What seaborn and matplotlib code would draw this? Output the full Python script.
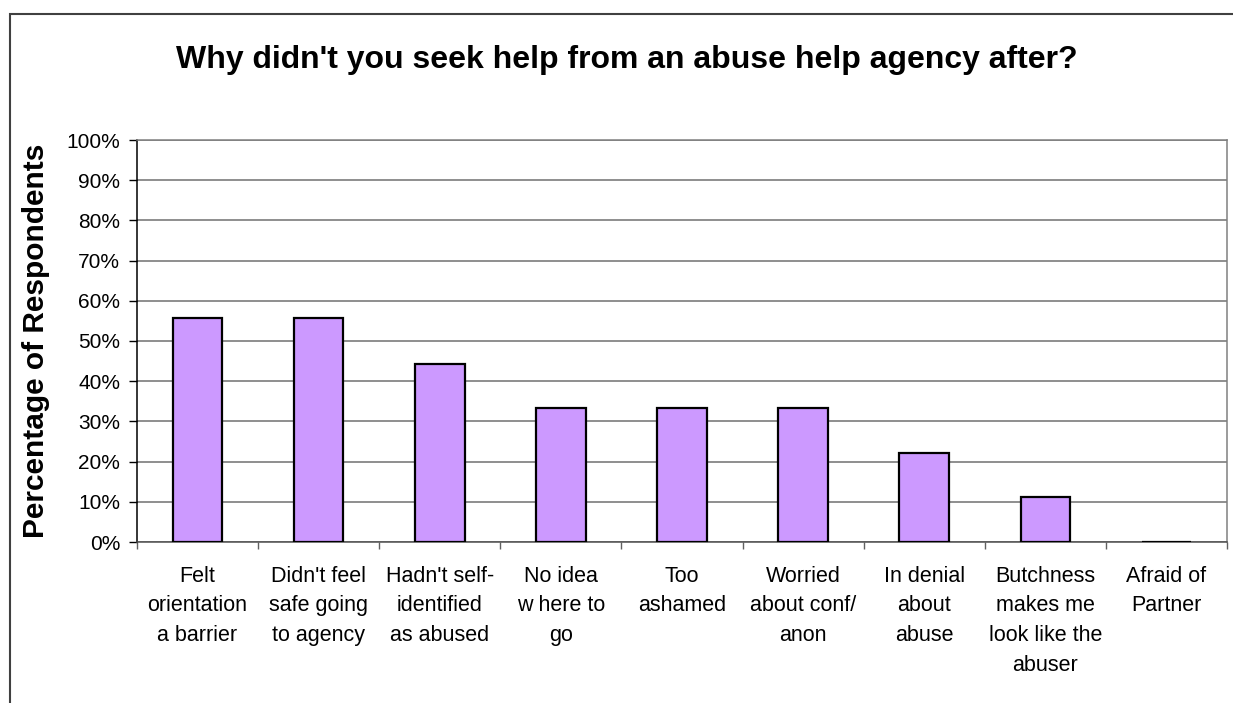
import matplotlib
matplotlib.use("Agg")
import matplotlib.pyplot as plt
import matplotlib.patches as mpatches
from matplotlib.ticker import FixedLocator, PercentFormatter
import seaborn as sns
import pandas as pd
import numpy as np

categories = [
    "Felt\norientation\na barrier",
    "Didn't feel\nsafe going\nto agency",
    "Hadn't self-\nidentified\nas abused",
    "No idea\nw here to\ngo",
    "Too\nashamed",
    "Worried\nabout conf/\nanon",
    "In denial\nabout\nabuse",
    "Butchness\nmakes me\nlook like the\nabuser",
    "Afraid of\nPartner",
]
values = [55.6, 55.6, 44.4, 33.3, 33.3, 33.3, 22.2, 11.1, 0.0]
yticks = [0, 10, 20, 30, 40, 50, 60, 70, 80, 90, 100]

title = "Why didn't you seek help from an abuse help agency after?"
ylabel = "Percentage of Respondents"

sns.set_theme(style="white")
plt.rcParams['font.family'] = ['Liberation Sans', 'DejaVu Sans']
plt.rcParams['text.color'] = 'black'
plt.rcParams['axes.labelcolor'] = 'black'
plt.rcParams['xtick.color'] = 'black'
plt.rcParams['ytick.color'] = 'black'

df = pd.DataFrame({"cat": categories, "val": values})

W, H = 1233, 703
fig = plt.figure(figsize=(W / 100, H / 100), dpi=100)
ax = fig.add_axes([137 / W, 1 - 542 / H, (1227 - 137) / W, (542 - 140) / H])

sns.barplot(data=df, x="cat", y="val", color="#CC99FF", edgecolor="black",
            linewidth=1.6, width=0.41, saturation=1, ax=ax, zorder=3)

ax.set_xlim(-0.5, len(categories) - 0.5)
ax.set_ylim(0, 100)
ax.set_yticks(yticks)
ax.yaxis.set_major_formatter(PercentFormatter(decimals=0))
ax.yaxis.grid(True, color="#707070", linewidth=1.1, zorder=0)
ax.xaxis.grid(False)
ax.set_axisbelow(True)

ax.set_xticks(range(len(categories)))
ax.set_xticklabels(categories, linespacing=1.55, va="top")
ax.xaxis.set_minor_locator(FixedLocator(np.arange(-0.5, len(categories), 1.0)))
ax.tick_params(axis="x", which="major", length=0, pad=17, labelsize=15.5, labelcolor="black")
ax.tick_params(axis="x", which="minor", bottom=True, length=5, width=1, color="#606060")
ax.tick_params(axis="y", which="major", left=True, length=6, width=1, color="black",
               labelsize=15, pad=6, labelcolor="black")

for name, sp in ax.spines.items():
    sp.set_visible(True)
    sp.set_color("#808080")
    sp.set_linewidth(1.1)
ax.spines["left"].set_color("black")
ax.spines["bottom"].set_color("#505050")

ax.set_xlabel("")
ax.set_ylabel(ylabel, fontsize=21.5, fontweight="bold", color="black")
ax.yaxis.set_label_coords((50 - 137) / (1227 - 137), 0.5)

fig.text(627 / W, 1 - 60 / H, title, ha="center", va="center",
         fontsize=23, fontweight="bold", color="black")

border = mpatches.Rectangle((10 / W, -0.2), 1.2, 1.2 - 14 / H, transform=fig.transFigure,
                            fill=False, edgecolor="#404040", linewidth=1.5)
fig.add_artist(border)

fig.savefig("out.png", dpi=100)
